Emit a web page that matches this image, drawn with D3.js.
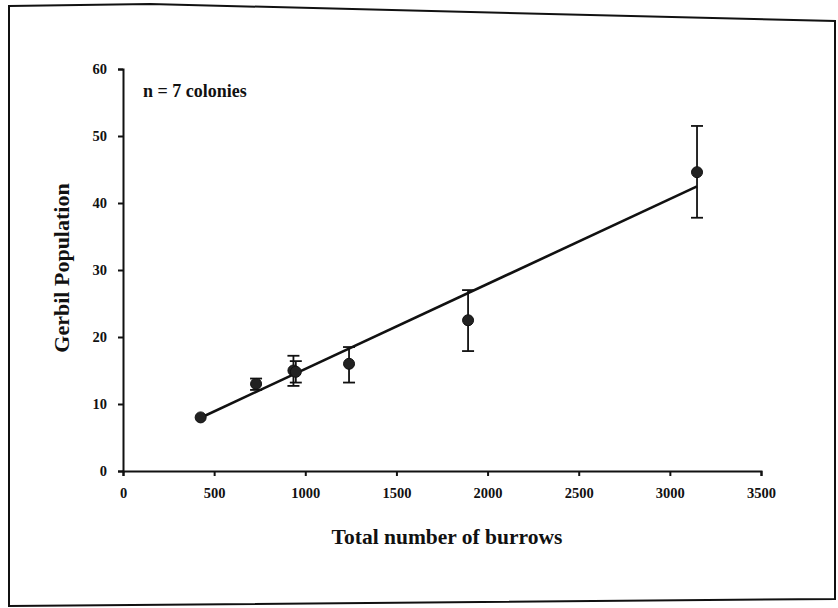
<!DOCTYPE html>
<html>
<head>
<meta charset="utf-8">
<script src="https://cdn.jsdelivr.net/npm/d3@7"></script>
<style>
  html, body { margin: 0; padding: 0; background: #fff; }
  svg { display: block; }
  text { font-family: "Liberation Serif", "Times New Roman", serif; font-weight: bold; fill: #111; }
</style>
</head>
<body>
<svg id="chart" width="838" height="608"></svg>
<script>
// Data
const burrows    = [426, 730, 935, 948, 1240, 1893, 3149];
const population = [8.0, 13.0, 15.0, 14.8, 16.0, 22.5, 44.6];
const errUpper   = [8.0, 13.8, 17.2, 16.4, 18.5, 27.0, 51.5];
const errLower   = [8.0, 12.1, 12.7, 13.2, 13.2, 17.9, 37.8];
const xTicks = [0, 500, 1000, 1500, 2000, 2500, 3000, 3500];
const yTicks = [0, 10, 20, 30, 40, 50, 60];
const fitSlope = 0.01268;
const fitIntercept = 2.55;
const annotation = "n = 7 colonies";
const xTitle = "Total number of burrows";
const yTitle = "Gerbil Population";

const svg = d3.select("#chart");
const ink = "#111";

// skewed frame as in the scanned figure
const frame = [[9, 6], [150, 4], [835, 21], [835, 599], [9, 606]];
svg.append("path")
  .attr("d", d3.line()(frame) + "Z")
  .attr("fill", "none").attr("stroke", ink).attr("stroke-width", 2);

const x = d3.scaleLinear().domain([0, 3500]).range([123, 761]);
const y = d3.scaleLinear().domain([0, 60]).range([471, 69]);

// axes
const xAxis = svg.append("g").attr("transform", `translate(0,${y(0)})`)
  .call(d3.axisBottom(x).tickValues(xTicks).tickSize(5).tickPadding(12).tickFormat(d3.format("d")));
const yAxis = svg.append("g").attr("transform", `translate(${x(0)},0)`)
  .call(d3.axisLeft(y).tickValues(yTicks).tickSize(5).tickPadding(11).tickFormat(d3.format("d")));
[xAxis, yAxis].forEach(g => {
  g.selectAll("path, line").attr("stroke", ink).attr("stroke-width", 2);
  g.selectAll("text").attr("font-size", 14.5).attr("font-family", "Liberation Serif, serif")
    .attr("font-weight", "bold").attr("fill", ink);
});

// regression line
const xMin = d3.min(burrows), xMax = d3.max(burrows);
svg.append("line")
  .attr("x1", x(xMin)).attr("y1", y(fitSlope * xMin + fitIntercept))
  .attr("x2", x(xMax)).attr("y2", y(fitSlope * xMax + fitIntercept))
  .attr("stroke", ink).attr("stroke-width", 2.6);

// error bars
const pts = burrows.map((b, i) => ({b, p: population[i], hi: errUpper[i], lo: errLower[i]}));
const eb = svg.append("g").attr("stroke", ink).attr("stroke-width", 1.8);
pts.filter(d => d.hi > d.lo).forEach(d => {
  eb.append("line").attr("x1", x(d.b)).attr("x2", x(d.b)).attr("y1", y(d.hi)).attr("y2", y(d.lo));
  eb.append("line").attr("x1", x(d.b) - 6).attr("x2", x(d.b) + 6).attr("y1", y(d.hi)).attr("y2", y(d.hi));
  eb.append("line").attr("x1", x(d.b) - 6).attr("x2", x(d.b) + 6).attr("y1", y(d.lo)).attr("y2", y(d.lo));
});

// points
svg.append("g").selectAll("circle").data(pts).join("circle")
  .attr("cx", d => x(d.b)).attr("cy", d => y(d.p)).attr("r", 5.5)
  .attr("fill", "#222").attr("stroke", ink).attr("stroke-width", 1);

// annotation
svg.append("text").attr("x", 143).attr("y", 97).attr("font-size", 18).text(annotation);

// titles
svg.append("text").attr("x", 447).attr("y", 544).attr("text-anchor", "middle")
  .attr("font-size", 21.5).text(xTitle);
svg.append("text").attr("transform", "translate(69,268) rotate(-90)")
  .attr("text-anchor", "middle").attr("font-size", 22).text(yTitle);
</script>
</body>
</html>
